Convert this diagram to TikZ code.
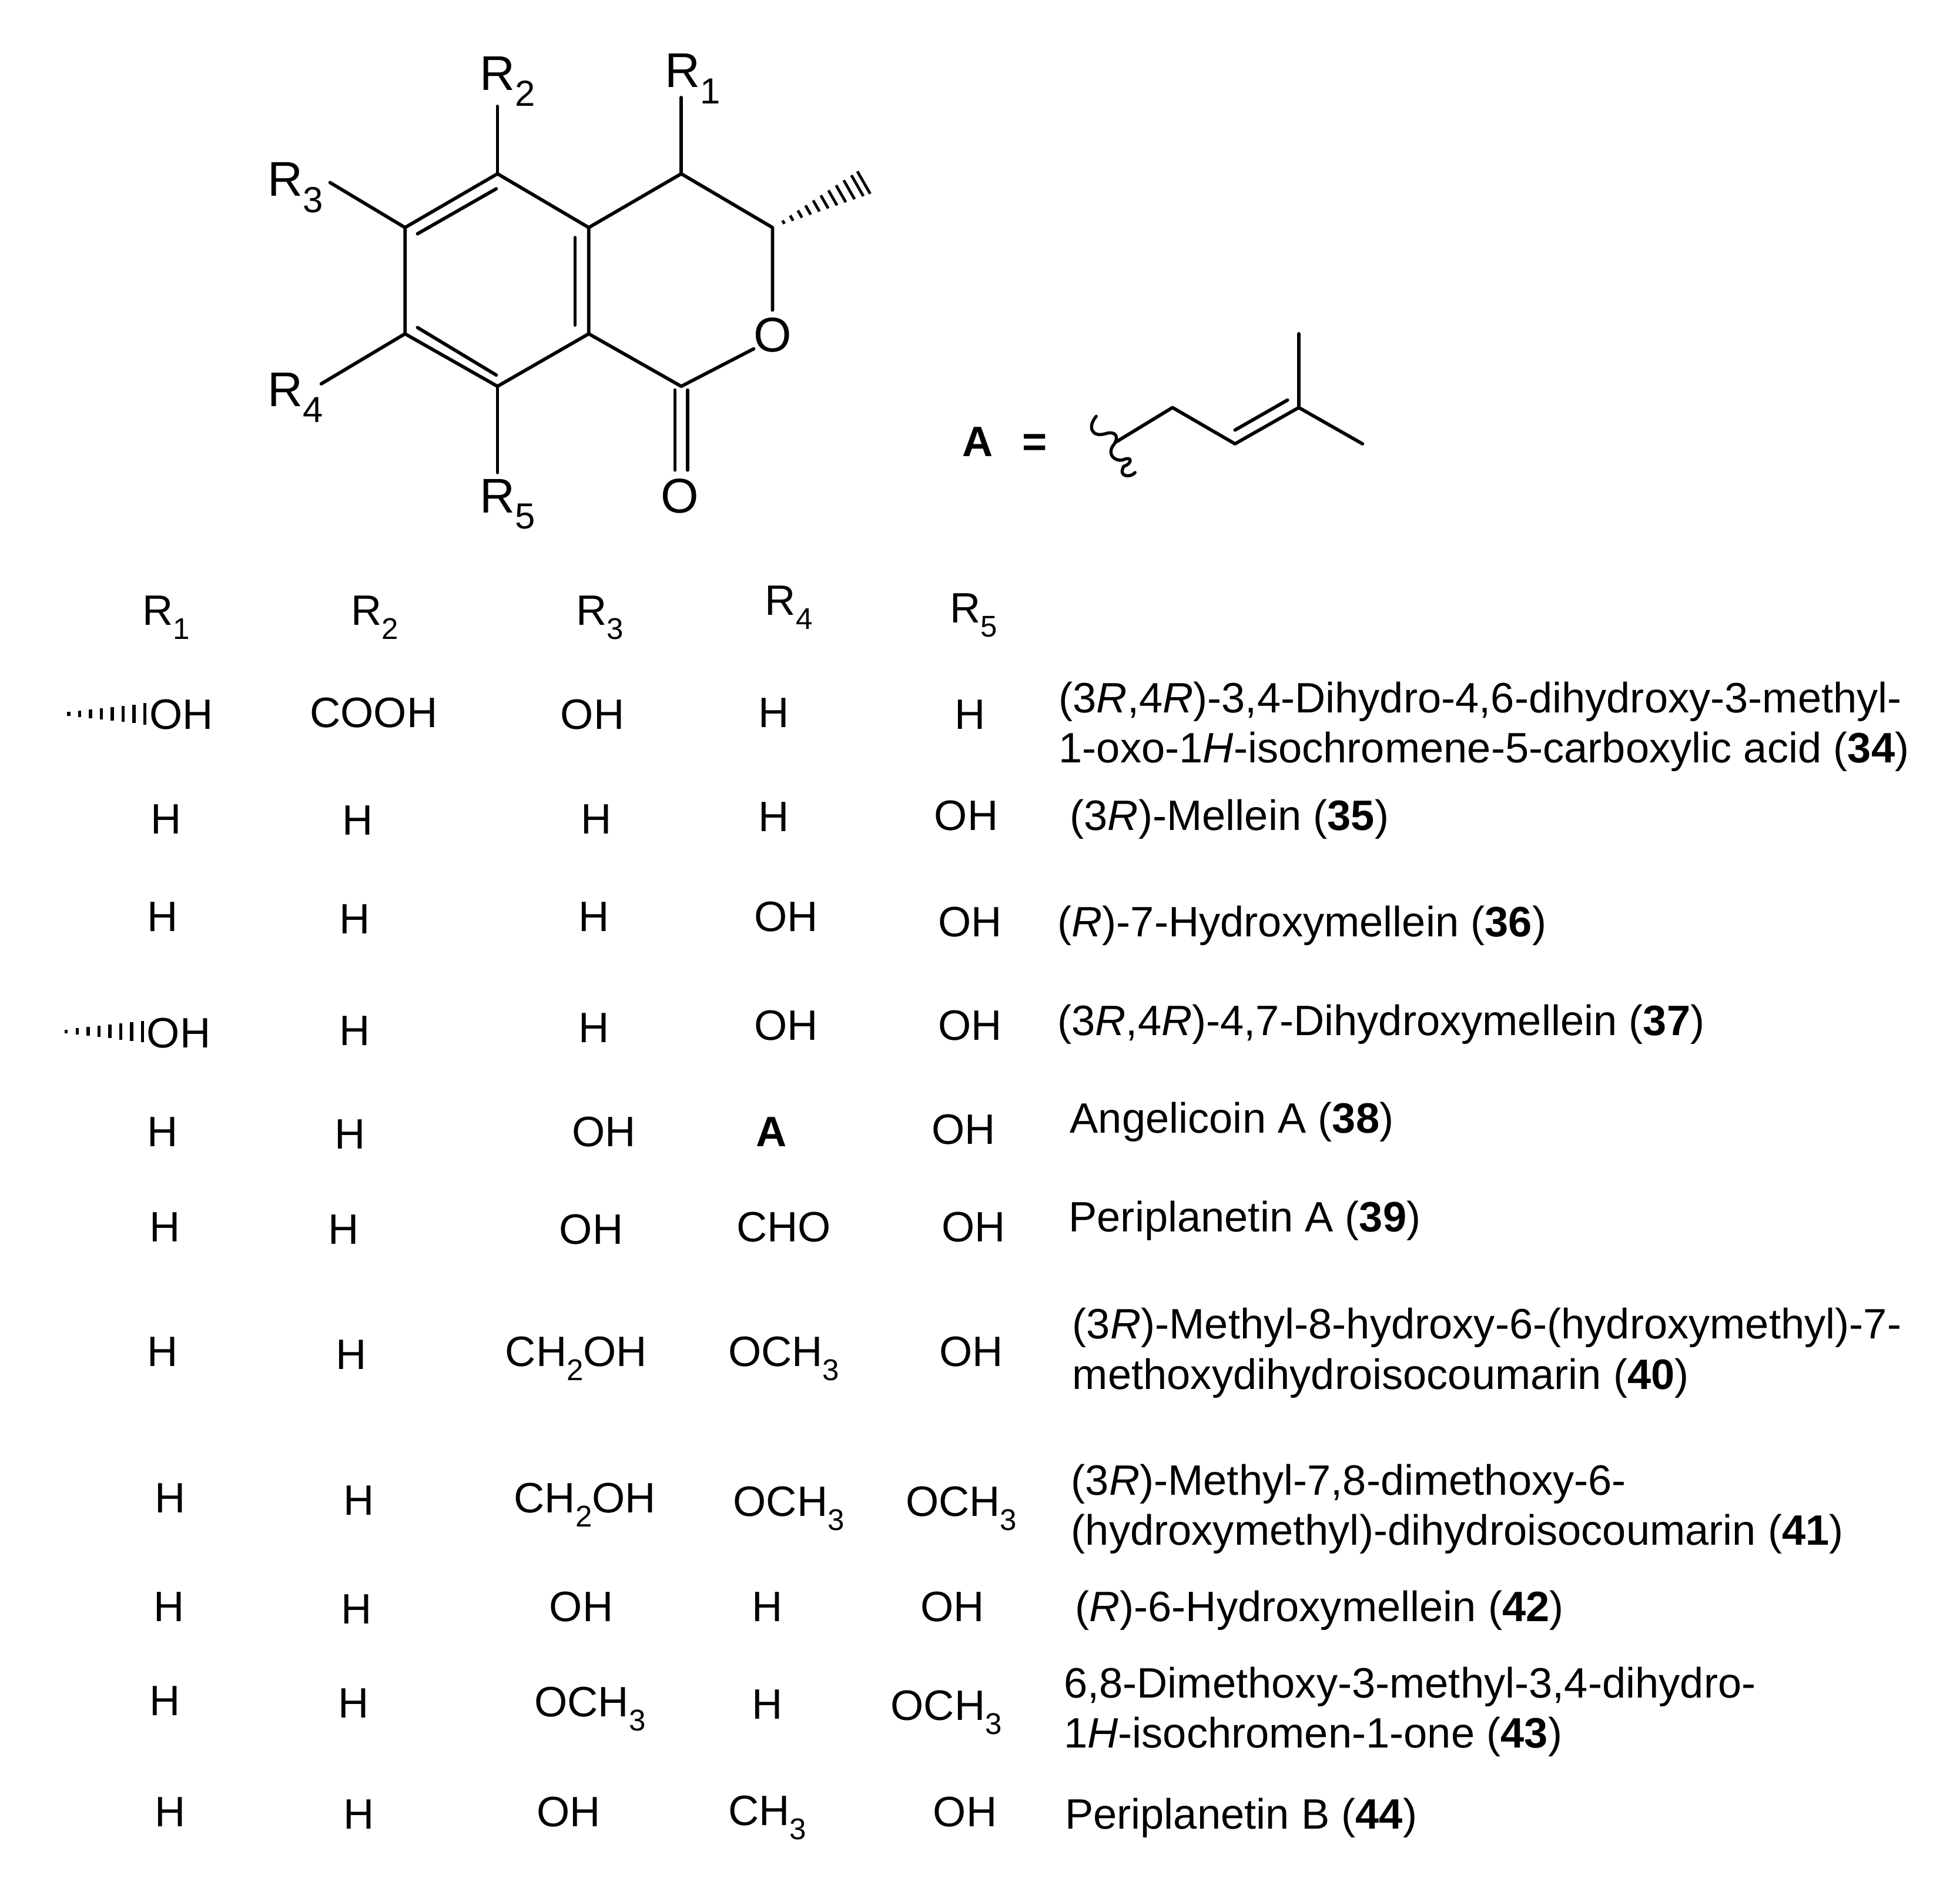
\documentclass[tikz,border=0pt]{standalone}
\usepackage{fontspec}
\usetikzlibrary{calc}
\setmainfont{Liberation Sans}
\newcommand\lowsub[1]{\raisebox{-0.33em}{\fontsize{12}{12}\selectfont #1}}
\newcommand\biglow[1]{\raisebox{-0.33em}{\fontsize{14.5}{14}\selectfont #1}}
\tikzset{
  tablecell/.style={inner sep=0pt,outer sep=0pt,anchor=base,font=\fontsize{17}{20}\selectfont},
  tablename/.style={inner sep=0pt,outer sep=0pt,anchor=base west,font=\fontsize{17}{20}\selectfont},
  ringlabel/.style={inner sep=0pt,outer sep=0pt,anchor=base west,font=\fontsize{19.5}{22}\selectfont},
  atomlabel/.style={inner sep=0pt,outer sep=0pt,anchor=center,font=\fontsize{19.5}{22}\selectfont},
  bond/.style={line width=1.35pt,line cap=round,line join=round},
  hashtick/.style={line width=1.3pt}
}
\newcommand\cell[4]{\node[tablecell] (#1) at ({#2},{#3+12}) {#4};}
\newcommand\cname[4]{\node[tablename] (#1) at ({#2},{#3+12}) {#4};}
\begin{document}
\begin{tikzpicture}[x=0.5pt,y=-0.5pt]
\fill[white] (0,0) rectangle (1568,1510);
\useasboundingbox (0,0) rectangle (1568,1510);
% ring atoms
\coordinate (c5) at (398,139);
\coordinate (c6) at (324,182);
\coordinate (c7) at (324,267);
\coordinate (c8) at (398,309);
\coordinate (c8a) at (471,267);
\coordinate (c4a) at (471,182);
\coordinate (c4) at (545,139);
\coordinate (c3) at (618,182);
\coordinate (c1) at (545,309);
\coordinate (me) at (691,146);
\node[atomlabel] (ringO) at (618,268) {O};
\node[atomlabel] (carbO) at (544,397) {O};
\node[ringlabel] (lR2) at (384,72) {R\biglow{2}};
\node[ringlabel] (lR1) at (532,70) {R\biglow{1}};
\node[ringlabel] (lR3) at (214,157) {R\biglow{3}};
\node[ringlabel] (lR4) at (214,325) {R\biglow{4}};
\node[ringlabel] (lR5) at (384,410) {R\biglow{5}};
\coordinate (eR1) at (545,78);
\coordinate (eR2) at (398,85);
\coordinate (eR3) at (264,146);
\coordinate (eR4) at (257,307);
\coordinate (eR5) at (398,378);
\coordinate (eO3) at (618,248);
\coordinate (eO1) at (603,279);
\draw[bond] (c5)--(c6)--(c7)--(c8)--(c8a)--(c4a)--(c5);
\draw[bond] (c4a)--(c4)--(c3)--(eO3);
\draw[bond] (c8a)--(c1)--(eO1);
\draw[bond] (c4)--(eR1);
\draw[bond] (c5)--(eR2);
\draw[bond] (c6)--(eR3);
\draw[bond] (c7)--(eR4);
\draw[bond] (c8)--(eR5);
\coordinate (d1a) at (334,187); \coordinate (d1b) at (397,151);
\coordinate (d2a) at (460,190); \coordinate (d2b) at (460,260);
\coordinate (d3a) at (334,262); \coordinate (d3b) at (397,300);
\draw[bond] (d1a)--(d1b);
\draw[bond] (d2a)--(d2b);
\draw[bond] (d3a)--(d3b);
\coordinate (co1a) at (540,312); \coordinate (co1b) at (540,376);
\coordinate (co2a) at (550,312); \coordinate (co2b) at (550,376);
\draw[bond] (co1a)--(co1b);
\draw[bond] (co2a)--(co2b);
% hashed wedge to methyl
\foreach \t/\h in {0.12/1.5,0.21/2.4,0.30/3.3,0.39/4.2,0.48/5.1,0.57/6,0.66/6.9,0.75/7.8,0.84/8.7,0.93/9.6,1.0/10.3}{
  \draw[hashtick,line width=1.1pt] ($(c3)!\t!(me)+(0.5*\h,0.87*\h)$) -- ($(c3)!\t!(me)-(0.5*\h,0.87*\h)$);
}
% substituent A
\node[tablecell,font=\fontsize{17}{20}\selectfont\bfseries] (lblA) at (782,365) {A};
\node[tablecell,font=\fontsize{17}{20}\selectfont\bfseries] (lblEq) at (828,365) {=};
\coordinate (a0) at (892,354);
\coordinate (a1) at (938,326);
\coordinate (a2) at (988,355);
\coordinate (a3) at (1039,326);
\coordinate (a4) at (1090,355);
\coordinate (a5) at (1039,267);
\coordinate (a6) at (988,344);
\coordinate (a7) at (1030,320);
\draw[bond] (a0)--(a1)--(a2)--(a3)--(a4);
\draw[bond] (a3)--(a5);
\draw[bond] (a6)--(a7);
\coordinate (w0) at (877,333);
\coordinate (w1) at (884,347);
\coordinate (w2) at (890,357);
\coordinate (w3) at (898,368);
\coordinate (w4) at (908,378);
\draw[line width=1.25pt,line cap=round] (w0) .. controls (870,341) and (873,350) .. (w1)
 .. controls (893,344) and (896,350) .. (w2)
 .. controls (886,364) and (892,369) .. (w3)
 .. controls (906,364) and (906,371) .. (899,373)
 .. controls (894,382) and (905,382) .. (w4);
% header
\cell{hR1}{133}{488}{R\lowsub{1}}
\cell{hR2}{300}{488}{R\lowsub{2}}
\cell{hR3}{480}{488}{R\lowsub{3}}
\cell{hR4}{631}{480}{R\lowsub{4}}
\cell{hR5}{779}{486}{R\lowsub{5}}
% row 34
\coordinate (hs34a) at (55,571); \coordinate (hs34b) at (116,571);
\foreach \t/\h in {0/1.5,0.143/2.5,0.286/3.5,0.429/4.5,0.571/5.5,0.714/6.5,0.857/7.5,1/8.5}{
  \draw[hashtick] ($(hs34a)!\t!(hs34b)+(0,\h)$) -- ($(hs34a)!\t!(hs34b)-(0,\h)$);
}
\cell{r34a}{145}{571}{OH}
\cell{r34b}{299}{570}{COOH}
\cell{r34c}{474}{571}{OH}
\cell{r34d}{619}{570}{H}
\cell{r34e}{776}{571}{H}
\cname{n34a}{847}{558}{(3\textit{R},4\textit{R})-3,4-Dihydro-4,6-dihydroxy-3-methyl-}
\cname{n34b}{847}{598}{1-oxo-1\textit{H}-isochromene-5-carboxylic acid (\textbf{34})}
% row 35
\cell{r35a}{133}{655}{H}
\cell{r35b}{286}{656}{H}
\cell{r35c}{477}{655}{H}
\cell{r35d}{619}{653}{H}
\cell{r35e}{773}{652}{OH}
\cname{n35}{856}{652}{(3\textit{R})-Mellein (\textbf{35})}
% row 36
\cell{r36a}{130}{733}{H}
\cell{r36b}{284}{735}{H}
\cell{r36c}{475}{733}{H}
\cell{r36d}{629}{733}{OH}
\cell{r36e}{776}{737}{OH}
\cname{n36}{846}{737}{(\textit{R})-7-Hydroxymellein (\textbf{36})}
% row 37
\coordinate (hs37a) at (53,825); \coordinate (hs37b) at (114,825);
\foreach \t/\h in {0/1.5,0.143/2.5,0.286/3.5,0.429/4.5,0.571/5.5,0.714/6.5,0.857/7.5,1/8.5}{
  \draw[hashtick] ($(hs37a)!\t!(hs37b)+(0,\h)$) -- ($(hs37a)!\t!(hs37b)-(0,\h)$);
}
\cell{r37a}{143}{826}{OH}
\cell{r37b}{284}{824}{H}
\cell{r37c}{475}{822}{H}
\cell{r37d}{629}{820}{OH}
\cell{r37e}{776}{820}{OH}
\cname{n37}{846}{816}{(3\textit{R},4\textit{R})-4,7-Dihydroxymellein (\textbf{37})}
% row 38
\cell{r38a}{130}{905}{H}
\cell{r38b}{280}{907}{H}
\cell{r38c}{483}{905}{OH}
\cell{r38d}{617}{905}{\textbf{A}}
\cell{r38e}{771}{903}{OH}
\cname{n38}{856}{894}{Angelicoin A (\textbf{38})}
% row 39
\cell{r39a}{132}{981}{H}
\cell{r39b}{275}{983}{H}
\cell{r39c}{473}{983}{OH}
\cell{r39d}{627}{981}{CHO}
\cell{r39e}{779}{981}{OH}
\cname{n39}{855}{973}{Periplanetin A (\textbf{39})}
% row 40
\cell{r40a}{130}{1081}{H}
\cell{r40b}{281}{1083}{H}
\cell{r40c}{461}{1081}{CH\lowsub{2}OH}
\cell{r40d}{627}{1081}{OCH\lowsub{3}}
\cell{r40e}{777}{1081}{OH}
\cname{n40a}{858}{1059}{(3\textit{R})-Methyl-8-hydroxy-6-(hydroxymethyl)-7-}
\cname{n40b}{858}{1099}{methoxydihydroisocoumarin (\textbf{40})}
% row 41
\cell{r41a}{136}{1198}{H}
\cell{r41b}{287}{1200}{H}
\cell{r41c}{468}{1198}{CH\lowsub{2}OH}
\cell{r41d}{631}{1201}{OCH\lowsub{3}}
\cell{r41e}{769}{1201}{OCH\lowsub{3}}
\cname{n41a}{857}{1184}{(3\textit{R})-Methyl-7,8-dimethoxy-6-}
\cname{n41b}{857}{1224}{(hydroxymethyl)-dihydroisocoumarin (\textbf{41})}
% row 42
\cell{r42a}{135}{1285}{H}
\cell{r42b}{285}{1287}{H}
\cell{r42c}{465}{1285}{OH}
\cell{r42d}{614}{1285}{H}
\cell{r42e}{762}{1285}{OH}
\cname{n42}{860}{1285}{(\textit{R})-6-Hydroxymellein (\textbf{42})}
% row 43
\cell{r43a}{132}{1360}{H}
\cell{r43b}{283}{1362}{H}
\cell{r43c}{472}{1361}{OCH\lowsub{3}}
\cell{r43d}{614}{1363}{H}
\cell{r43e}{757}{1364}{OCH\lowsub{3}}
\cname{n43a}{851}{1346}{6,8-Dimethoxy-3-methyl-3,4-dihydro-}
\cname{n43b}{851}{1386}{1\textit{H}-isochromen-1-one (\textbf{43})}
% row 44
\cell{r44a}{136}{1449}{H}
\cell{r44b}{287}{1451}{H}
\cell{r44c}{455}{1449}{OH}
\cell{r44d}{614}{1448}{CH\lowsub{3}}
\cell{r44e}{772}{1449}{OH}
\cname{n44}{852}{1451}{Periplanetin B (\textbf{44})}
\end{tikzpicture}
\end{document}
